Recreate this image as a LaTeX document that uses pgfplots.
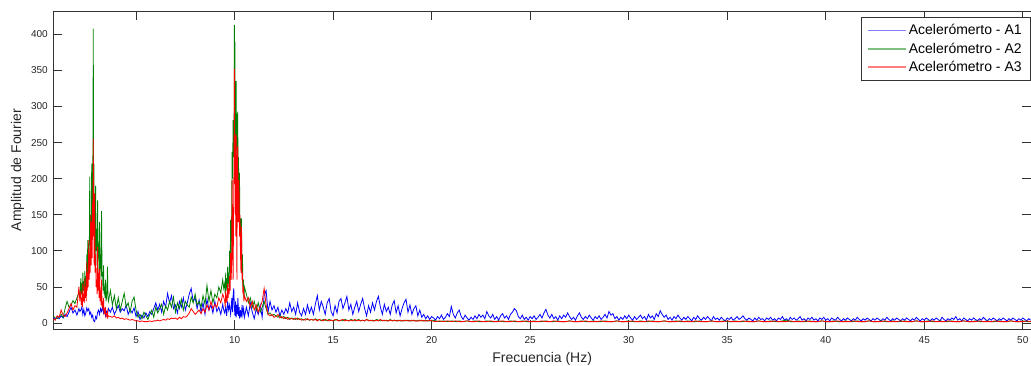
\documentclass[border=0pt]{standalone}
\usepackage{fontspec}
\setmainfont{Liberation Sans}
\usepackage{pgfplots}
\usepackage{pgfplotstable}
\pgfplotsset{compat=1.18}
\definecolor{mblue}{rgb}{0,0,1}
\definecolor{mgreen}{rgb}{0,0.5,0}
\definecolor{mred}{rgb}{1,0,0}
% Acelerometro A1
\pgfplotstableread{
x a1
0.8 8
0.9 5
1.0 9
1.1 6
1.2 10
1.3 7
1.4 12
1.5 9
1.6 15
1.7 22
1.8 14
1.9 18
2.0 11
2.1 20
2.15 16
2.2 18
2.25 22
2.3 12
2.35 19
2.4 10
2.45 14
2.5 21
2.55 17
2.6 20
2.65 12
2.7 15
2.75 8
2.8 11
2.83 5
2.86 3
2.9 2
2.95 9
3.0 6
3.05 15
3.1 18
3.15 12
3.2 20
3.25 16
3.3 22
3.35 14
3.4 18
3.45 10
3.5 16
3.55 12
3.6 20
3.7 15
3.8 22
3.9 12
4.0 18
4.1 24
4.2 15
4.3 20
4.4 17
4.5 25
4.6 12
4.7 19
4.8 14
4.9 21
5.0 9
5.1 16
5.2 5
5.3 11
5.4 7
5.5 14
5.6 9
5.7 16
5.8 12
5.9 20
6.0 28
6.1 18
6.2 26
6.3 15
6.4 30
6.5 22
6.6 41
6.7 28
6.8 38
6.9 20
7.0 25
7.1 14
7.2 30
7.3 22
7.4 35
7.5 18
7.6 28
7.7 40
7.8 48
7.9 30
8.0 35
8.1 20
8.2 32
8.3 15
8.4 28
8.5 12
8.6 33
8.7 18
8.8 25
8.9 14
9.0 30
9.1 16
9.2 22
9.3 12
9.4 26
9.45 18
9.5 14
9.55 22
9.6 10
9.65 30
9.7 18
9.75 25
9.8 12
9.83 20
9.86 35
9.9 15
9.93 40
9.96 48
9.99 22
10.02 10
10.05 30
10.08 8
10.11 25
10.14 12
10.17 35
10.2 10
10.23 22
10.26 6
10.3 18
10.34 8
10.38 25
10.42 12
10.46 20
10.5 8
10.6 22
10.7 10
10.8 28
10.9 15
11.0 6
11.1 20
11.2 12
11.3 25
11.4 8
11.5 38
11.6 45
11.7 15
11.8 30
11.9 18
12.0 24
12.1 15
12.2 22
12.3 10
12.4 18
12.5 12
12.6 20
12.7 14
12.8 28
12.9 16
13.0 22
13.1 12
13.2 28
13.3 15
13.4 10
13.5 20
13.6 12
13.7 25
13.8 14
13.9 22
14.0 12
14.1 26
14.2 38
14.3 18
14.4 30
14.5 22
14.6 12
14.7 28
14.8 34
14.9 16
15.0 10
15.1 24
15.2 14
15.3 30
15.4 34
15.5 20
15.6 28
15.7 37
15.8 18
15.9 26
16.0 12
16.1 22
16.2 30
16.3 16
16.4 26
16.5 34
16.6 20
16.7 10
16.8 24
16.9 15
17.0 28
17.1 18
17.2 30
17.3 37
17.4 22
17.5 12
17.6 26
17.7 16
17.8 22
17.9 12
18.0 25
18.1 31
18.2 14
18.3 24
18.4 10
18.5 20
18.6 28
18.7 33
18.8 15
18.9 25
19.0 12
19.1 20
19.2 24
19.3 10
19.4 18
19.5 8
19.6 12
19.7 6
19.8 10
19.9 5
20.0 9
20.1 7
20.2 4
20.3 9
20.4 6
20.5 11
20.6 5
20.7 8
20.8 13
20.9 9
21.0 23
21.1 12
21.2 7
21.3 14
21.4 18
21.5 9
21.6 5
21.7 11
21.8 7
21.9 4
22.0 8
22.1 5
22.2 10
22.3 6
22.4 12
22.5 8
22.6 11
22.7 6
22.8 16
22.9 10
23.0 7
23.1 12
23.2 5
23.3 9
23.4 4
23.5 10
23.6 13
23.7 7
23.8 10
23.9 5
24.0 12
24.1 15
24.2 20
24.3 17
24.4 9
24.5 6
24.6 11
24.7 5
24.8 8
24.9 4
25.0 9
25.1 6
25.2 10
25.3 5
25.4 8
25.5 12
25.6 7
25.7 14
25.8 19
25.9 11
26.0 7
26.1 12
26.2 6
26.3 9
26.4 4
26.5 10
26.6 6
26.7 11
26.8 8
26.9 14
27.0 9
27.1 5
27.2 8
27.3 4
27.4 10
27.5 14
27.6 8
27.7 5
27.8 9
27.9 6
28.0 11
28.1 7
28.2 4
28.3 9
28.4 6
28.5 10
28.6 5
28.7 8
28.8 12
28.9 7
29.0 16
29.1 11
29.2 13
29.3 6
29.4 9
29.5 4
29.6 8
29.7 5
29.8 10
29.9 6
30.0 11
30.1 7
30.2 4
30.3 9
30.4 5
30.5 8
30.6 11
30.7 6
30.8 9
30.9 4
31.0 12
31.1 7
31.2 10
31.3 5
31.4 13
31.5 9
31.6 17
31.7 12
31.8 8
31.9 11
32.0 5
32.1 8
32.2 4
32.3 9
32.4 6
32.5 11
32.6 7
32.7 4
32.8 8
32.9 5
33.0 9
33.1 6
33.2 3
33.3 8
33.4 5
33.5 10
33.6 6
33.7 4
33.8 8
33.9 5
34.0 9
34.1 6
34.2 3
34.3 9
34.4 5
34.5 7
34.6 4
34.7 8
34.8 5
34.9 3
35.0 7
35.1 5
35.2 8
35.3 4
35.4 6
35.5 9
35.6 5
35.7 7
35.8 10
35.9 6
36.0 4
36.1 7
36.2 5
36.3 3
36.4 7
36.5 4
36.6 8
36.7 5
36.8 6
36.9 3
37.0 7
37.1 5
37.2 8
37.3 4
37.4 6
37.5 3
37.6 7
37.7 5
37.8 9
37.9 4
38.0 6
38.1 3
38.2 8
38.3 5
38.4 7
38.5 4
38.6 6
38.7 9
38.8 4
38.9 6
39.0 3
39.1 7
39.2 5
39.3 8
39.4 4
39.5 6
39.6 3
39.7 7
39.8 5
39.9 8
40.0 4
40.1 6
40.2 3
40.3 7
40.4 5
40.5 4
40.6 8
40.7 5
40.8 3
40.9 6
41.0 4
41.1 7
41.2 5
41.3 3
41.4 6
41.5 4
41.6 8
41.7 5
41.8 3
41.9 6
42.0 4
42.1 7
42.2 5
42.3 3
42.4 6
42.5 4
42.6 7
42.7 5
42.8 3
42.9 6
43.0 4
43.1 8
43.2 5
43.3 3
43.4 6
43.5 4
43.6 7
43.7 5
43.8 3
43.9 6
44.0 4
44.1 7
44.2 5
44.3 3
44.4 6
44.5 4
44.6 8
44.7 5
44.8 3
44.9 6
45.0 4
45.1 7
45.2 5
45.3 3
45.4 6
45.5 4
45.6 7
45.7 5
45.8 3
45.9 8
46.0 5
46.1 3
46.2 6
46.3 4
46.4 7
46.5 5
46.6 9
46.7 4
46.8 6
46.9 3
47.0 7
47.1 5
47.2 3
47.3 6
47.4 4
47.5 7
47.6 5
47.7 3
47.8 6
47.9 4
48.0 8
48.1 5
48.2 3
48.3 6
48.4 4
48.5 7
48.6 5
48.7 3
48.8 6
48.9 4
49.0 7
49.1 5
49.2 3
49.3 6
49.4 4
49.5 7
49.6 5
49.7 3
49.8 6
49.9 4
50.0 7
50.1 5
50.2 3
50.3 6
50.4 4
}\tablea
% Acelerometros A2 y A3
\pgfplotstableread{
x a2 a3
0.8 10 6
0.9 7 4
1.0 6 10
1.1 9 8
1.2 12 18
1.3 8 11
1.4 20 9
1.5 30 14
1.6 22 20
1.7 25 27
1.8 31 18
1.9 27 24
2.0 35 22
2.1 42 50
2.15 38 30
2.2 62 45
2.225 40 25
2.25 55 35
2.275 35 22
2.3 70 55
2.325 45 30
2.35 58 40
2.375 40 28
2.4 72 62
2.425 50 35
2.45 65 50
2.475 45 30
2.5 95 85
2.525 60 45
2.55 115 70
2.575 75 50
2.6 110 115
2.625 80 60
2.65 203 95
2.675 120 70
2.7 150 150
2.725 100 80
2.75 221 140
2.775 140 90
2.8 185 170
2.815 250 120
2.83 408 255
2.845 200 130
2.86 221 150
2.875 120 80
2.9 160 180
2.925 90 70
2.95 190 95
2.975 100 50
3.0 130 60
3.025 80 40
3.05 170 105
3.075 90 45
3.1 110 70
3.125 70 35
3.15 140 75
3.175 75 30
3.2 95 45
3.225 60 25
3.25 155 60
3.275 65 22
3.3 70 30
3.325 45 18
3.35 80 35
3.375 40 15
3.4 50 18
3.425 35 12
3.45 60 22
3.475 30 10
3.5 35 12
3.525 45 9
3.55 78 15
3.575 35 8
3.6 30 10
3.7 45 9
3.8 25 8
3.9 38 10
4.0 20 7
4.1 35 8
4.2 18 6
4.3 30 7
4.4 41 5
4.5 22 6
4.6 28 5
4.7 15 4
4.8 30 5
4.9 36 4
5.0 18 3
5.1 8 3
5.2 12 2
5.3 6 3
5.4 15 2
5.5 10 2
5.6 5 2
5.7 12 3
5.8 18 2
5.9 8 3
6.0 22 3
6.1 14 4
6.2 20 3
6.3 26 4
6.4 12 5
6.5 24 4
6.6 18 6
6.7 30 5
6.8 22 7
6.9 36 6
7.0 15 7
7.1 28 5
7.2 20 8
7.3 33 6
7.4 18 9
7.5 30 8
7.6 25 10
7.7 22 14
7.8 36 20
7.9 28 16
8.0 40 12
8.1 25 15
8.2 30 18
8.3 22 13
8.4 38 20
8.5 26 15
8.6 52 25
8.7 30 18
8.8 45 30
8.9 28 20
9.0 40 26
9.1 35 22
9.2 50 35
9.3 42 28
9.4 60 40
9.45 48 36
9.5 55 30
9.525 40 22
9.55 70 45
9.575 45 28
9.6 62 38
9.625 48 30
9.65 78 55
9.675 50 35
9.7 70 48
9.725 55 40
9.75 100 65
9.775 70 45
9.8 143 97
9.825 90 60
9.85 140 80
9.875 237 198
9.9 200 130
9.925 281 60
9.95 230 150
9.975 250 230
9.99 413 352
10.005 300 200
10.02 390 263
10.035 260 150
10.05 300 200
10.065 210 120
10.08 335 260
10.1 240 180
10.12 290 60
10.14 200 230
10.16 293 245
10.18 180 140
10.2 230 180
10.225 150 198
10.25 208 120
10.275 120 150
10.3 145 97
10.325 90 70
10.35 145 133
10.375 70 60
10.4 95 70
10.425 50 40
10.45 60 50
10.475 35 30
10.5 50 38
10.6 40 30
10.7 28 35
10.8 35 22
10.9 22 30
11.0 30 18
11.1 18 25
11.2 28 15
11.3 15 22
11.4 22 30
11.5 30 48
11.6 20 25
11.7 12 12
11.8 14 10
11.9 10 12
12.0 12 8
12.1 10 9
12.2 8 12
12.3 11 7
12.4 7 9
12.5 9 6
12.6 6 8
12.7 8 5
12.8 5 7
12.9 7 6
13.0 6 5
13.1 5 7
13.2 7 5
13.3 5 6
13.4 6 4
13.5 4 5
13.6 6 4
13.7 5 6
13.8 4 4
13.9 5 5
14.0 4 4
14.1 6 5
14.2 4 3
14.3 5 5
14.4 3 4
14.5 5 3
14.6 4 5
14.7 3 4
14.8 5 3
14.9 4 4
15.0 3 3
15.1 4 5
15.2 5 4
15.3 3 3
15.4 4 4
15.5 3 5
15.6 5 3
15.7 4 4
15.8 3 3
15.9 5 4
16.0 4 3
16.1 3 5
16.2 4 3
16.3 5 4
16.4 3 3
16.5 4 4
16.6 3 3
16.7 5 5
16.8 4 3
16.9 3 4
17.0 4 3
17.1 3 3
17.2 5 4
17.3 4 3
17.4 3 5
17.5 4 3
17.6 3 4
17.7 4 3
17.8 3 3
17.9 5 4
18.0 3 3
18.1 4 4
18.2 3 3
18.3 4 3
18.4 3 4
18.5 3 3
18.6 4 3
18.7 3 4
18.8 4 3
18.9 3 3
19.0 3 4
19.1 4 3
19.2 3 3
19.3 3 3
19.4 4 3
19.5 3 4
19.6 3 3
19.7 4 3
19.8 3 3
19.9 3 4
20.0 4 3
20.2 3 2
20.4 2 3
20.6 3 2
20.8 2 3
21.0 3 2
21.2 2 3
21.4 3 2
21.6 2 2
21.8 3 3
22.0 2 2
22.2 3 2
22.4 2 3
22.6 2 2
22.8 3 2
23.0 2 3
23.2 2 2
23.4 3 2
23.6 2 3
23.8 2 2
24.0 3 2
24.2 2 3
24.4 2 2
24.6 3 2
24.8 2 3
25.0 2 2
25.2 3 2
25.4 2 2
25.6 2 3
25.8 3 2
26.0 2 2
26.2 2 3
26.4 3 2
26.6 2 2
26.8 2 2
27.0 3 3
27.2 2 2
27.4 2 2
27.6 3 2
27.8 2 3
28.0 2 2
28.2 3 2
28.4 2 2
28.6 2 3
28.8 3 2
29.0 2 2
29.2 2 2
29.4 3 3
29.6 2 2
29.8 2 2
30.0 3 2
30.2 2 3
30.4 2 2
30.6 3 2
30.8 2 2
31.0 2 3
31.2 3 2
31.4 2 2
31.6 2 2
31.8 3 3
32.0 2 2
32.2 2 2
32.4 3 2
32.6 2 3
32.8 2 2
33.0 3 2
33.2 2 2
33.4 2 3
33.6 3 2
33.8 2 2
34.0 2 2
34.2 3 3
34.4 2 2
34.6 2 2
34.8 3 2
35.0 2 3
35.2 2 2
35.4 3 2
35.6 2 2
35.8 2 3
36.0 3 2
36.2 2 2
36.4 2 2
36.6 3 3
36.8 2 2
37.0 2 2
37.2 3 2
37.4 2 3
37.6 2 2
37.8 3 2
38.0 4 2
38.2 2 3
38.4 2 2
38.6 3 2
38.8 2 2
39.0 2 3
39.2 3 2
39.4 2 2
39.6 2 2
39.8 3 3
40.0 2 2
40.2 2 2
40.4 3 2
40.6 2 3
40.8 2 2
41.0 3 2
41.2 2 2
41.4 2 3
41.6 3 2
41.8 2 2
42.0 2 2
42.2 3 3
42.4 2 2
42.6 2 2
42.8 3 2
43.0 2 3
43.2 2 2
43.4 3 2
43.6 2 2
43.8 2 3
44.0 3 2
44.2 2 2
44.4 2 2
44.6 3 3
44.8 2 2
45.0 2 2
45.2 3 2
45.4 2 3
45.6 2 2
45.8 3 2
46.0 2 2
46.2 2 3
46.4 3 2
46.6 2 2
46.8 2 2
47.0 3 3
47.2 2 2
47.4 2 2
47.6 3 2
47.8 2 3
48.0 2 2
48.2 3 2
48.4 2 2
48.6 2 3
48.8 3 2
49.0 2 2
49.2 2 2
49.4 3 3
49.6 2 2
49.8 2 2
50.0 3 2
50.2 2 3
50.4 2 2
}\tablebc
\begin{document}
\begin{tikzpicture}
\path[use as bounding box] (0,0) rectangle (773.25pt,274.5pt);
\begin{axis}[
  at={(40pt,27.5pt)}, anchor=south west,
  scale only axis,
  width=733.3pt, height=238.7pt,
  xmin=0.803, xmax=50.42,
  ymin=-8.7, ymax=432.2,
  xtick={5,10,...,50},
  ytick={0,50,...,400},
  tick align=inside,
  major tick length=6.75pt,
  axis line style={black!80, line width=0.6pt},
  every tick/.style={black!80, line width=0.6pt},
  /pgf/number format/assume math mode=true,
  ticklabel style={font=\fontsize{7.5}{9}\selectfont, text=black!85},
  xticklabel style={anchor=base, yshift=-11pt},
  yticklabel style={anchor=east, inner xsep=0pt, xshift=-4pt},
  scaled ticks=false,
  xlabel={Frecuencia (Hz)},
  ylabel={Amplitud de Fourier},
  label style={font=\fontsize{10.5}{12.6}\selectfont, text=black!85},
  xlabel style={at={(axis description cs:0.5,0)}, anchor=base, yshift=-24.75pt},
  ylabel style={at={(axis description cs:-0.0366,0.5)}, anchor=center},
  legend cell align=left,
  legend image post style={xscale=1.65, line width=1.3pt, opacity=0.5},
  legend style={at={(rel axis cs:0.9995,0.981)}, anchor=north east,
    draw=black!80, fill=white,
    font=\fontsize{10.5}{12.6}\selectfont,
    inner xsep=5pt, inner ysep=3.8pt, row sep=1.5pt,
    nodes={inner sep=1.5pt},
    /tikz/every even column/.append style={column sep=1.5pt}},
  every axis plot/.append style={line width=0.6pt},
]
\addplot[color=mblue, no markers] table[x=x, y=a1]{\tablea};
\addlegendentry{Acelerómerto - A1}
\addplot[color=mgreen, no markers] table[x=x, y=a2]{\tablebc};
\addlegendentry{Acelerómetro - A2}
\addplot[color=mred, no markers] table[x=x, y=a3]{\tablebc};
\addlegendentry{Acelerómetro - A3}
\end{axis}
\end{tikzpicture}
\end{document}
